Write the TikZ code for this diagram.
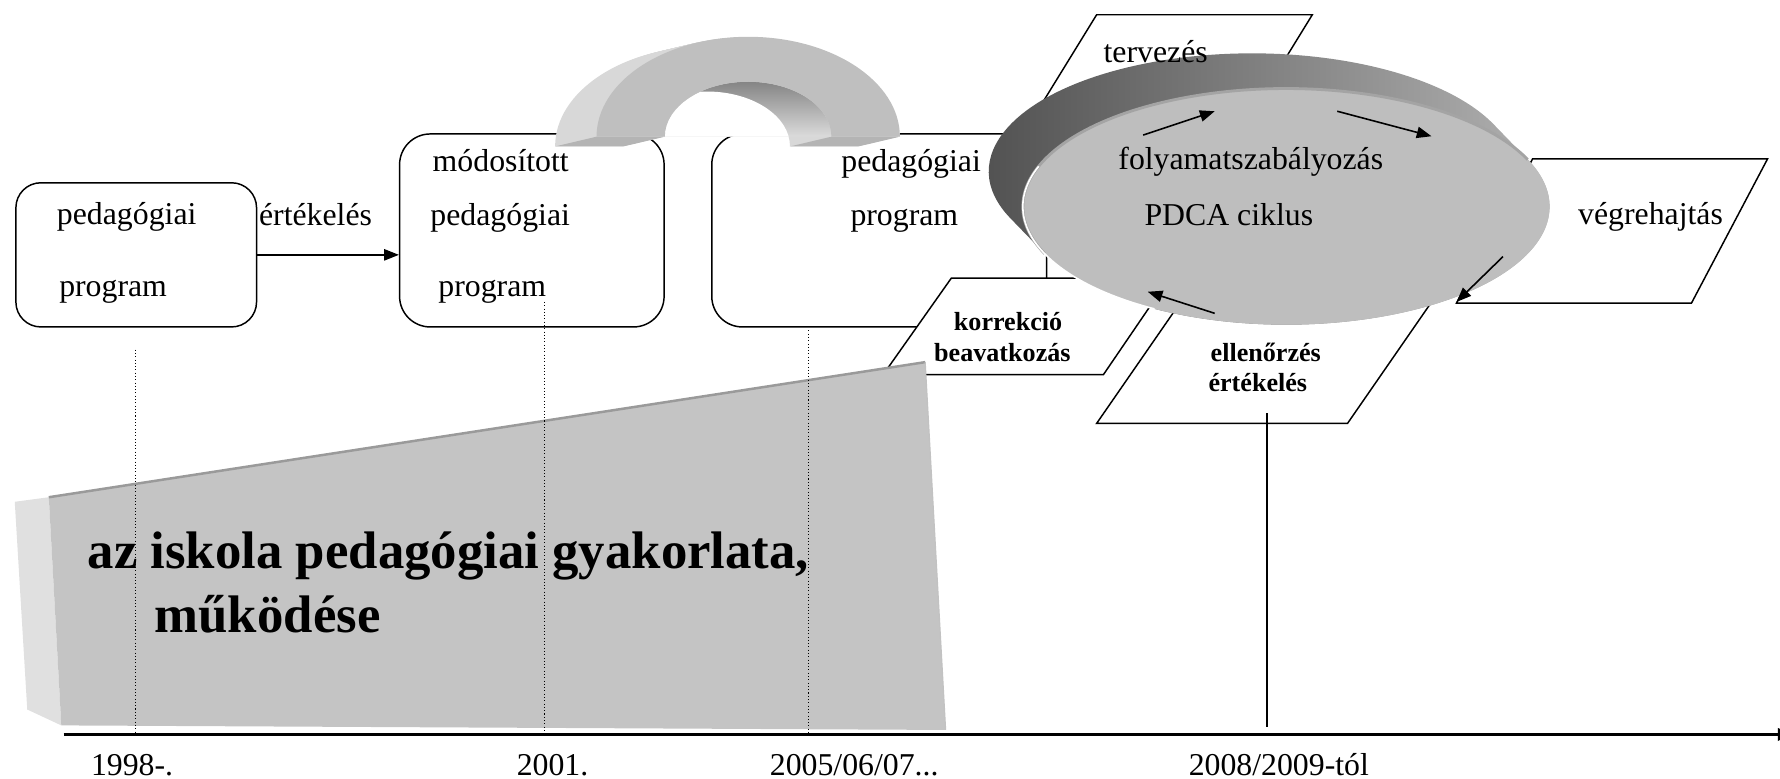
\documentclass[tikz,border=0pt]{standalone}
\usepackage{fontspec}
\setmainfont{Liberation Serif}
\usetikzlibrary{arrows.meta}
\definecolor{archside}{HTML}{D8D8D8}
\definecolor{archfront}{HTML}{BFBFBF}
\definecolor{archfoot}{HTML}{B4B4B4}
\definecolor{slabfill}{HTML}{C4C4C4}
\definecolor{slabside}{HTML}{E0E0E0}
\definecolor{slabedge}{HTML}{9A9A9A}
\definecolor{disktop}{HTML}{BEBEBE}
\definecolor{diskrim}{HTML}{A4A4A4}
\begin{document}
\begin{tikzpicture}[x=1pt,y=-1pt,
  txt/.style={font=\fontsize{28}{30}\selectfont, inner sep=0pt, anchor=base west},
  btxt/.style={font=\fontsize{23}{25}\selectfont\bfseries, inner sep=0pt, anchor=base},
  bigtxt/.style={font=\fontsize{46.5}{52}\selectfont\bfseries, inner sep=0pt, anchor=base west},
  pbox/.style={draw, line width=1.3pt, inner sep=0pt},
  para/.style={draw, line width=1.3pt, fill=white, line join=miter},
  tri/.style={-{Triangle[length=13pt,width=10pt]}, line width=1.4pt},
  dots/.style={dotted, line width=0.9pt},
]
\useasboundingbox (0,0) rectangle (1568,686);
\def\AO{(525.5,120.4) arc[start angle=180,end angle=360,x radius=133.6,y radius=88] -- (732.4,120.4) arc[start angle=360,end angle=180,x radius=73.4,y radius=48.4] -- cycle}
\def\AI{(585.6,120.4) arc[start angle=180,end angle=360,x radius=73.4,y radius=48.4] -- cycle}

% program boxes
\node[pbox, rounded corners=22pt, minimum width=212pt, minimum height=127pt] (b1) at (120,224.5) {};
\node[pbox, rounded corners=27pt, minimum width=233pt, minimum height=170pt] (b2) at (468.5,203) {};
\node[pbox, rounded corners=27pt, minimum width=295pt, minimum height=170pt] (b3) at (774.5,203) {};
\draw[tri, line width=1.3pt] (b1.east) -- (b1.east -| b2.west);

% arch
\foreach \i in {20,...,1} {\fill[archside, shift={({-36.5*\i/20},{8.6*\i/20})}] \AO;}
\fill[archfoot] (525.5,120.4) -- (585.6,120.4) -- (549.1,129) -- (489,129) -- cycle;
\fill[archfoot] (732.4,120.4) -- (792.6,120.4) -- (756.1,129) -- (695.9,129) -- cycle;
\begin{scope}
  \clip \AI;
  \shade[top color=black!48, bottom color=black!14] \AI;
  \fill[white, shift={(-36.5,8.6)}] \AI;
\end{scope}
\fill[archfront] \AO;

% parallelograms
\draw[para] (966,13) -- (1156,13) -- (1084,130) -- (894,130) -- cycle;
\draw[para] (1350,140) -- (1557,140) -- (1490,267) -- (1283,267) -- cycle;
\draw[para] (1065,230) -- (1286,230) -- (1187,373) -- (966,373) -- cycle;
\draw[para] (838,245) -- (1030,245) -- (972,330) -- (778,330) -- cycle;

% PDCA disk
\shade[left color=black!70, right color=black!28]
  (920.25,223.47) -- (890.25,192.47)
  arc[start angle=156.5,end angle=336.5,x radius=232,y radius=104]
  -- (1345.75,140.53)
  arc[start angle=336.5,end angle=516.5,x radius=232,y radius=104] -- cycle;
\fill[disktop] (1133,182) ellipse[x radius=232, y radius=104];
\draw[diskrim, line width=2.5pt] (920.25,223.47) arc[start angle=156.5,end angle=336.5,x radius=232,y radius=104];
\draw[white, line width=1.4pt] (1017,272.1) arc[start angle=120,end angle=200,x radius=232,y radius=104];

\coordinate (p1s) at (1007,119); \coordinate (p1e) at (1070,98);
\coordinate (p2s) at (1178,98);  \coordinate (p2e) at (1261,120);
\coordinate (p3s) at (1324,226); \coordinate (p3e) at (1283,266);
\coordinate (p4s) at (1070,276); \coordinate (p4e) at (1011,257);
\draw[tri] (p1s) -- (p1e);
\draw[tri] (p2s) -- (p2e);
\draw[tri] (p3s) -- (p3e);
\draw[tri] (p4s) -- (p4e);

% slab
\fill[slabside] (13,442) -- (43,438) -- (54,639) -- (24,625) -- cycle;
\fill[slabfill] (43,438) -- (815,319) -- (833,643) -- (54,639) -- cycle;
\draw[slabedge, line width=2.2pt] (43,438) -- (815,319);
\draw[slabedge!60, line width=1pt] (815,319) -- (833,643);

% timeline
\coordinate (ax0) at (56,647); \coordinate (ax1) at (1578,647);
\draw[line width=2.2pt, -{Triangle[length=12pt,width=11pt]}] (ax0) -- (ax1);
\coordinate (d1) at (119,308); \coordinate (d2) at (480,266); \coordinate (d3) at (712,291);
\draw[dots] (d1) -- (d1 |- ax0);
\draw[dots] (d2) -- (d2 |- ax0);
\draw[dots] (d3) -- (d3 |- ax0);
\coordinate (v1) at (1116,364); \coordinate (v2) at (1116,640);
\draw[line width=1.3pt] (v1) -- (v2);

% texts
\node[txt] (t1) at (50,198) {pedagógiai};
\node[txt] (t2) at (52,261) {program};
\node[txt] (t3) at (228,199) {értékelés};
\node[txt] (t4) at (381,151) {módosított};
\node[txt] (t5) at (379,199) {pedagógiai};
\node[txt] (t6) at (386,261) {program};
\node[txt] (t7) at (741,151) {pedagógiai};
\node[txt] (t8) at (749,199) {program};
\node[txt] (t9) at (972,55) {tervezés};
\node[txt] (t10) at (985,149) {folyamatszabályozás};
\node[txt] (t11) at (1008,199) {PDCA ciklus};
\node[txt] (t12) at (1390,198) {végrehajtás};
\node[btxt] (t13) at (888,291) {korrekció};
\node[btxt] (t14) at (883,318) {beavatkozás};
\node[btxt] (t15) at (1115,318) {ellenőrzés};
\node[btxt] (t16) at (1108,345) {értékelés};
\node[bigtxt] (t17) at (77,501) {az iskola pedagógiai gyakorlata,};
\node[bigtxt] (t18) at (136,557) {működése};
\node[txt] (y1) at (80,683) {1998-.};
\node[txt] (y2) at (455,683) {2001.};
\node[txt] (y3) at (678,683) {2005/06/07...};
\node[txt] (y4) at (1047,683) {2008/2009-tól};
\end{tikzpicture}
\end{document}
